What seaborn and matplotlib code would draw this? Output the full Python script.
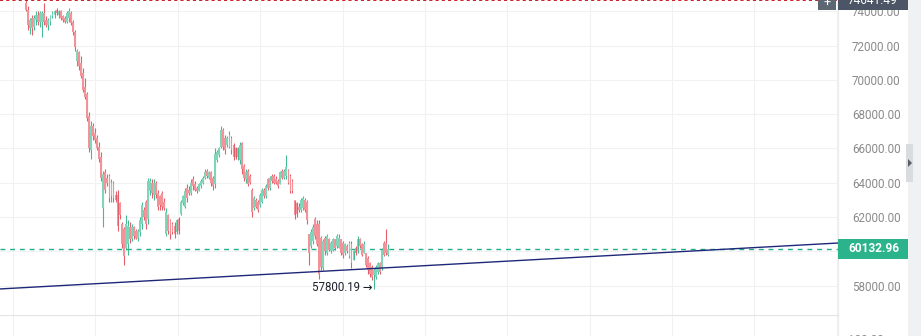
import numpy as np
import pandas as pd
import matplotlib
matplotlib.use("Agg")
import matplotlib.pyplot as plt
import seaborn as sns
from matplotlib.patches import Rectangle, Polygon
from matplotlib.transforms import blended_transform_factory

# ---------------- data (prices in thousands USD) ----------------
opens = [74.5, 74.1, 73.0, 73.6, 73.1, 73.5, 73.8, 73.4, 73.4, 73.9,
         73.5, 73.2, 73.4, 73.7, 73.8, 74.1, 73.8, 74.0, 73.7, 73.6,
         73.4, 73.6, 73.9, 73.4, 72.8, 71.1, 71.6, 71.0, 70.4, 69.6,
         69.2, 67.9, 65.9, 67.3, 66.9, 66.6, 66.1, 65.5, 62.5, 64.6,
         64.3, 64.4, 63.2, 64.0, 63.3, 63.3, 62.8, 61.6, 61.3, 60.2,
         60.4, 61.4, 60.7, 61.4, 61.2, 60.8, 61.1, 61.6, 62.4, 62.9,
         61.9, 63.5, 64.0, 63.3, 64.0, 63.4, 63.2, 63.4, 62.9, 61.0,
         62.1, 61.8, 61.6, 61.5, 61.1, 61.9, 62.2, 62.8, 62.6, 63.7,
         63.6, 63.4, 64.2, 63.9, 63.7, 63.5, 63.8, 64.0, 64.3, 64.7,
         64.3, 64.6, 64.3, 63.9, 65.3, 65.6, 66.1, 67.1, 66.6, 66.2,
         66.1, 66.6, 66.2, 66.0, 65.5, 65.3, 66.3, 65.0, 64.2, 64.7,
         64.4, 63.6, 62.5, 63.0, 62.9, 62.7, 62.9, 63.6, 63.2, 64.2,
         63.7, 64.4, 64.4, 64.2, 64.1, 63.9, 64.7, 64.3, 64.4, 64.8,
         64.4, 64.1, 63.0, 62.8, 62.6, 62.4, 62.5, 63.0, 62.9, 61.0,
         60.3, 60.6, 61.9, 61.6, 61.6, 60.8, 59.0, 60.8, 59.9, 60.7,
         60.0, 60.1, 60.7, 60.3, 60.2, 60.7, 60.5, 59.9, 60.3, 59.7,
         60.4, 59.5, 60.2, 60.0, 60.7, 60.4, 59.9, 59.9, 59.6, 59.3,
         59.1, 58.6, 58.5, 58.8, 59.3, 59.0, 60.5, 60.5, 59.8]
highs = [74.64149, 74.3, 73.6, 73.8, 73.8, 74.0, 74.0, 74.0, 74.0, 74.5,
         73.7, 73.6, 73.8, 74.0, 74.1, 74.2, 74.1, 74.1, 73.8, 73.7,
         74.0, 74.2, 74.0, 73.5, 72.9, 71.8, 71.7, 71.4, 70.7, 70.1,
         69.3, 68.1, 67.6, 67.5, 67.2, 66.8, 66.4, 65.8, 64.7, 64.8,
         64.5, 64.5, 64.2, 64.1, 63.5, 63.6, 62.9, 61.7, 61.4, 62.1,
         61.8, 61.7, 61.6, 61.5, 61.3, 61.3, 62.0, 62.9, 62.6, 63.0,
         64.3, 64.3, 64.2, 64.2, 64.1, 63.6, 63.3, 63.5, 63.1, 62.5,
         62.2, 61.9, 61.7, 61.7, 61.9, 62.0, 63.0, 63.3, 63.7, 63.9,
         63.8, 64.2, 64.4, 64.1, 63.8, 64.0, 64.2, 64.4, 64.8, 64.8,
         64.7, 64.7, 64.4, 66.0, 65.9, 66.1, 67.3, 67.2, 66.8, 66.7,
         67.0, 66.7, 66.3, 66.1, 66.1, 66.4, 66.4, 65.1, 64.8, 64.8,
         64.5, 63.7, 63.2, 63.1, 63.0, 63.4, 63.7, 63.7, 63.9, 64.3,
         64.4, 64.5, 64.5, 64.4, 64.2, 64.7, 64.8, 64.8, 65.6, 64.8,
         64.5, 64.2, 63.0, 62.9, 62.8, 63.1, 63.2, 63.1, 63.0, 61.0,
         61.3, 61.6, 62.0, 61.8, 61.8, 60.9, 60.7, 60.9, 61.0, 60.8,
         60.6, 60.8, 60.7, 61.0, 61.0, 60.7, 60.6, 60.5, 60.4, 60.6,
         60.6, 60.1, 60.3, 60.9, 60.8, 60.5, 60.6, 59.9, 59.7, 59.4,
         59.2, 59.0, 59.2, 59.4, 59.4, 60.2, 60.6, 61.3, 60.4]
lows = [74.0, 72.9, 72.7, 72.6, 72.9, 73.2, 73.2, 73.1, 72.5, 73.2,
        73.1, 72.9, 73.2, 73.6, 73.6, 73.8, 73.6, 73.5, 73.4, 73.3,
        73.3, 73.4, 73.2, 72.6, 71.7, 70.8, 70.6, 70.1, 69.3, 68.9,
        67.6, 65.8, 65.4, 66.5, 66.3, 65.9, 65.2, 64.1, 61.4, 63.4,
        63.8, 62.9, 62.9, 62.9, 62.9, 61.2, 61.9, 60.2, 59.2, 60.1,
        59.8, 60.5, 60.6, 60.7, 60.7, 60.6, 60.9, 61.3, 61.8, 61.3,
        61.6, 63.3, 63.1, 63.0, 63.1, 62.4, 62.4, 62.4, 62.4, 60.9,
        61.0, 60.7, 61.0, 60.8, 61.0, 61.0, 62.1, 62.7, 62.5, 62.9,
        63.3, 63.3, 63.6, 63.5, 63.4, 63.5, 63.7, 63.9, 64.2, 64.3,
        64.2, 63.8, 63.6, 63.7, 65.2, 65.5, 66.0, 65.9, 65.7, 66.1,
        66.0, 65.7, 65.3, 65.4, 65.3, 65.1, 64.5, 64.1, 64.0, 63.8,
        63.9, 62.0, 62.4, 62.5, 62.3, 62.6, 62.8, 63.1, 63.1, 63.6,
        63.6, 64.0, 63.9, 63.9, 63.7, 63.9, 64.2, 64.2, 64.2, 63.9,
        63.4, 63.4, 61.9, 62.0, 62.3, 62.3, 62.4, 62.3, 61.6, 59.2,
        60.2, 60.4, 60.7, 60.3, 58.4, 58.9, 58.9, 59.8, 59.8, 60.0,
        59.9, 60.0, 60.1, 60.2, 60.2, 59.8, 59.6, 59.8, 59.9, 59.6,
        59.0, 59.5, 59.8, 59.9, 60.2, 59.7, 59.9, 59.1, 58.7, 58.5,
        58.3, 57.80019, 58.4, 58.7, 58.7, 58.9, 59.7, 59.8, 59.7]
closes = [74.1, 73.2, 73.5, 73.0, 73.6, 73.8, 73.4, 73.9, 73.9, 73.4,
          73.2, 73.5, 73.7, 73.9, 74.0, 73.9, 74.0, 73.6, 73.5, 73.4,
          73.9, 74.0, 73.3, 72.8, 71.9, 71.7, 70.8, 70.2, 69.4, 69.0,
          67.8, 66.0, 67.3, 66.7, 66.5, 66.0, 65.4, 64.3, 64.5, 63.6,
          64.0, 63.1, 64.0, 63.1, 63.0, 61.5, 62.1, 60.4, 59.7, 61.6,
          61.5, 60.7, 61.4, 60.9, 60.8, 61.2, 61.8, 62.7, 62.0, 61.6,
          64.1, 64.1, 63.4, 64.0, 63.3, 62.6, 62.7, 62.6, 62.5, 62.3,
          61.2, 61.0, 61.1, 61.0, 61.8, 61.2, 62.9, 63.2, 63.5, 63.1,
          63.4, 64.0, 63.8, 63.6, 63.5, 63.9, 64.1, 64.3, 64.6, 64.4,
          64.6, 64.0, 63.8, 65.7, 65.8, 66.0, 67.1, 66.1, 65.9, 66.6,
          66.8, 65.9, 65.5, 65.5, 66.0, 66.2, 64.8, 64.3, 64.6, 63.9,
          64.0, 62.3, 63.1, 62.6, 62.4, 63.3, 63.6, 63.2, 63.8, 63.7,
          64.3, 64.1, 64.0, 64.0, 63.8, 64.6, 64.3, 64.7, 64.9, 64.0,
          63.5, 63.5, 62.1, 62.2, 62.4, 63.0, 63.1, 62.4, 61.8, 59.9,
          61.1, 61.4, 60.9, 60.4, 58.7, 59.1, 60.6, 60.0, 60.9, 60.1,
          60.5, 60.7, 60.2, 60.9, 60.8, 59.9, 59.8, 60.4, 60.0, 60.5,
          59.3, 60.0, 59.9, 60.7, 60.3, 59.8, 60.4, 59.2, 58.9, 58.7,
          58.5, 58.9, 59.1, 59.3, 58.8, 60.1, 59.8, 59.9, 60.13296]

y_ticks = [58000, 60000, 62000, 64000, 66000, 68000, 70000, 72000, 74000]
last_price = 60132.96
max_price = 74641.49
min_label = "57800.19"
trend_x = [-12.8, 399.2]            # bar index at the two ends of the trend line
trend_y = [57800, 60480]            # price at the two ends
time_grid_start, time_grid_step = -6.4, 40.5
lower_pane_label = "100.00"

df = pd.DataFrame({"open": np.array(opens) * 1000, "high": np.array(highs) * 1000,
                   "low": np.array(lows) * 1000, "close": np.array(closes) * 1000})
df["idx"] = np.arange(len(df))
df["up"] = df["close"] >= df["open"]

# ---------------- style ----------------
sns.set_theme(style="white")
plt.rcParams["font.family"] = ["Roboto", "DejaVu Sans"]

W, H = 921, 336
fig = plt.figure(figsize=(W / 100, H / 100), dpi=100)
fig.patch.set_facecolor("white")
axw = 838 / W
pane_h = 21 / H
ax = fig.add_axes([0, pane_h, axw, 1 - pane_h])
ax2 = fig.add_axes([0, 0, axw, pane_h])

UP_BODY, UP_WICK = "#7fd5ba", "#45bb95"
DN_BODY, DN_WICK = "#f39399", "#e35f6b"

# grid
for v in y_ticks:
    ax.axhline(v, color="#f1f1f1", lw=0.8, zorder=0)
gx = np.arange(time_grid_start, 400, time_grid_step)
for v in gx:
    ax.axvline(v, color="#f1f1f1", lw=0.8, zorder=0)
    ax2.axvline(v, color="#f1f1f1", lw=0.8, zorder=0)

# candles
for up, body_c, wick_c in [(True, UP_BODY, UP_WICK), (False, DN_BODY, DN_WICK)]:
    d = df[df["up"] == up]
    ax.vlines(d["idx"], d["low"], d["high"], color=wick_c, lw=0.8, zorder=2)
    bottoms = np.minimum(d["open"], d["close"])
    heights = np.maximum(np.abs(d["close"] - d["open"]), 40)
    ax.bar(d["idx"], heights, bottom=bottoms, width=0.9, color=body_c,
           edgecolor="none", zorder=3)

# trend line (seaborn)
tl = pd.DataFrame({"x": trend_x, "y": trend_y})
sns.lineplot(data=tl, x="x", y="y", ax=ax, color="#1f2878", lw=1.0, zorder=4)

# price lines
ax.axhline(last_price, color="#1fae88", lw=1.0, ls=(0, (3.5, 3.5)), zorder=1)
ax.axhline(max_price, color="#c8202b", lw=1.4, ls=(0, (1.6, 1.6)), zorder=5)

# low annotation
low_i = int(df["low"].idxmin())
ax.text(low_i - 0.8, df["low"].min() + 60, min_label + " \u2192", ha="right", va="center",
        fontsize=8.3, color="#1c1f2a", zorder=6)

ax.set_xlim(-12.8, 399.2)
ax.set_ylim(56280, 74660)
ax.set_xlabel("")
ax.set_ylabel("")
ax.set_xticks([])
ax.yaxis.tick_right()
ax.set_yticks(y_ticks)
# the 60000 label sits under the last-price tag in the reference
ax.set_yticklabels(["" if abs(v - last_price) < 600 else f"{v:.2f}" for v in y_ticks])
ax.tick_params(axis="y", length=0, pad=10, labelsize=8.4, labelcolor="#8a8a8a")
for s in ["top", "left", "bottom"]:
    ax.spines[s].set_visible(False)
ax.spines["right"].set_color("#ececec")
ax.spines["right"].set_linewidth(0.8)
ax.set_facecolor("white")

# lower pane
ax2.set_xlim(-12.8, 399.2)
ax2.set_ylim(0, 100)
ax2.set_xticks([])
ax2.yaxis.tick_right()
ax2.set_yticks([])
for s in ["left", "bottom"]:
    ax2.spines[s].set_visible(False)
ax2.spines["top"].set_color("#e4e4e4")
ax2.spines["top"].set_linewidth(0.8)
ax2.spines["right"].set_color("#ececec")
ax2.spines["right"].set_linewidth(0.8)
fig.text(848 / W, -0.012, lower_pane_label, ha="left", va="center", fontsize=8.4,
         color="#8a8a8a")

# last price label on the axis
bt = blended_transform_factory(fig.transFigure, ax.transData)
box_h = 20 * (74660 - 56280) / 315
fig.patches.append(Rectangle((838 / W, last_price - box_h / 2), 70 / W, box_h,
                             transform=bt, facecolor="#2bb38b", edgecolor="none",
                             zorder=10))
fig.text(848 / W, last_price, f"{last_price:.2f}", transform=bt, ha="left",
         va="center", fontsize=8.6, fontweight="bold", color="white", zorder=11)

# max price label (cut at the top) and + button
fig.patches.append(Rectangle((838 / W, 1 - 10 / H), 70 / W, 12 / H,
                             transform=fig.transFigure, facecolor="#4c5565",
                             edgecolor="none", zorder=10))
fig.text(848 / W, 1 - 1 / H, f"{max_price:.2f}", ha="left", va="center",
         fontsize=8.6, color="white", zorder=11)
fig.patches.append(Rectangle((818 / W, 1 - 10 / H), 18 / W, 12 / H,
                             transform=fig.transFigure, facecolor="#5d6673",
                             edgecolor="none", zorder=10))
fig.text(827 / W, 1 - 3 / H, "+", ha="center", va="center", fontsize=9,
         color="white", zorder=11)

# right side bar
fig.patches.append(Rectangle((908 / W, 0), 13 / W, 1, transform=fig.transFigure,
                             facecolor="#f0f1f3", edgecolor="none", zorder=1))
fig.patches.append(Rectangle((906 / W, 1 - 182 / H), 7 / W, 38 / H,
                             transform=fig.transFigure, facecolor="#d9dbde",
                             edgecolor="none", zorder=2))
fig.patches.append(Polygon([[908 / W, 1 - 159 / H], [908 / W, 1 - 167 / H],
                            [912 / W, 1 - 163 / H]], closed=True,
                           transform=fig.transFigure, facecolor="#5a5f66",
                           edgecolor="none", zorder=3))

fig.savefig("out.png", dpi=100, facecolor="white")
